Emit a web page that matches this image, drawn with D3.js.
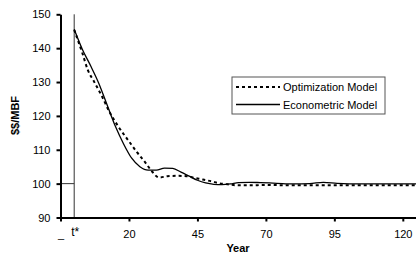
<!DOCTYPE html>
<html>
<head>
<meta charset="utf-8">
<script src="https://cdn.jsdelivr.net/npm/d3@7"></script>
<style>
  body { margin: 0; background: #fff; }
  text { font-family: "Liberation Sans", Arial, sans-serif; fill: #000; }
</style>
</head>
<body>
<div id="chart"></div>
<script>
// Data
const optYears = [0, 3, 5, 7, 10, 13, 16, 20, 23, 26, 28.5, 31, 34, 38, 41, 44, 47, 50, 53, 56, 60, 64, 70, 80, 95, 110, 125];
const optValues = [145.4, 138.5, 133.5, 130.5, 126, 121, 117, 112.5, 109.2, 106.2, 103.5, 101.8, 102.2, 102.3, 102.2, 101.7, 101.2, 100.7, 100.1, 99.8, 99.5, 99.5, 99.6, 99.5, 99.5, 99.5, 99.5];
const ecoYears = [0, 1, 3, 6, 9, 12, 15, 18, 21, 24, 27, 30, 33, 36, 39, 42, 45, 48, 51, 54, 57, 60, 64, 68, 74, 80, 86, 91, 96, 105, 115, 125];
const ecoValues = [145.6, 143.5, 139.6, 134.8, 129.6, 123.3, 117, 111.8, 107.5, 105, 104, 104, 104.6, 104.5, 103.4, 102.2, 101, 100.2, 99.8, 99.7, 99.9, 100.3, 100.4, 100.3, 100.1, 99.9, 100, 100.4, 100.1, 99.9, 99.9, 99.9];
const xTicks = [-5, 20, 45, 70, 95, 120];
const yTicks = [90, 100, 110, 120, 130, 140, 150];
const seriesNames = ["Optimization Model", "Econometric Model"];

const W = 416, H = 254;
const svg = d3.select("#chart").append("svg")
    .attr("width", W)
    .attr("height", H);

const x = d3.scaleLinear().domain([-5, 125]).range([60.5, 416.5]);
const y = d3.scaleLinear().domain([90, 150]).range([217.5, 14.3]);

// reference lines at t*
svg.append("line")
    .attr("x1", x(0)).attr("x2", x(0))
    .attr("y1", y(150)).attr("y2", y(90))
    .attr("stroke", "#333").attr("stroke-width", 1);
svg.append("line")
    .attr("x1", x(-5)).attr("x2", x(0))
    .attr("y1", y(100)).attr("y2", y(100))
    .attr("stroke", "#333").attr("stroke-width", 1);

// axes
const xAxis = d3.axisBottom(x).tickValues(xTicks).tickSize(4).tickSizeOuter(0).tickPadding(9)
    .tickFormat(d => d === -5 ? "_" : d);
const yAxis = d3.axisLeft(y).tickValues(yTicks).tickSize(4).tickSizeOuter(0).tickPadding(6);

const gx = svg.append("g").attr("transform", `translate(0,${y(90)})`).call(xAxis);
const gy = svg.append("g").attr("transform", `translate(${x(-5)},0)`).call(yAxis);
[gx, gy].forEach(g => {
    g.select(".domain").attr("stroke", "#000").attr("stroke-width", 2);
    g.selectAll(".tick line").attr("stroke", "#000").attr("stroke-width", 2);
    g.selectAll(".tick text").attr("font-size", 11).attr("font-family", "Liberation Sans, Arial, sans-serif").attr("fill", "#000");
});

svg.append("text")
    .attr("x", x(0) + 1).attr("y", 236)
    .attr("text-anchor", "middle")
    .attr("font-size", 12)
    .text("t*");

// axis titles
svg.append("text")
    .attr("x", 238).attr("y", 252)
    .attr("text-anchor", "middle")
    .attr("font-size", 11).attr("font-weight", "bold")
    .text("Year");
svg.append("text")
    .attr("transform", `translate(19,115.5) rotate(-90)`)
    .attr("text-anchor", "middle")
    .attr("font-size", 11).attr("font-weight", "bold")
    .text("$$/MBF");

// series
const line = d3.line().x(d => x(d[0])).y(d => y(d[1])).curve(d3.curveMonotoneX);
const optData = optYears.map((d, i) => [d, optValues[i]]);
const ecoData = ecoYears.map((d, i) => [d, ecoValues[i]]);

svg.append("path").datum(optData)
    .attr("d", line)
    .attr("fill", "none").attr("stroke", "#000")
    .attr("stroke-width", 2).attr("stroke-dasharray", "3,3");
svg.append("path").datum(ecoData)
    .attr("d", line)
    .attr("fill", "none").attr("stroke", "#000")
    .attr("stroke-width", 1.3);

// legend
const lg = svg.append("g").attr("transform", "translate(232,77)");
lg.append("rect")
    .attr("width", 153).attr("height", 37)
    .attr("fill", "#fff").attr("stroke", "#555").attr("stroke-width", 1);
seriesNames.forEach((name, i) => {
    const ly = 10 + i * 17.5;
    lg.append("line")
        .attr("x1", 4).attr("x2", 48).attr("y1", ly).attr("y2", ly)
        .attr("stroke", "#000")
        .attr("stroke-width", i === 0 ? 2 : 1.3)
        .attr("stroke-dasharray", i === 0 ? "3,3" : null);
    lg.append("text")
        .attr("x", 51).attr("y", ly + 4)
        .attr("font-size", 11)
        .text(name);
});
</script>
</body>
</html>
